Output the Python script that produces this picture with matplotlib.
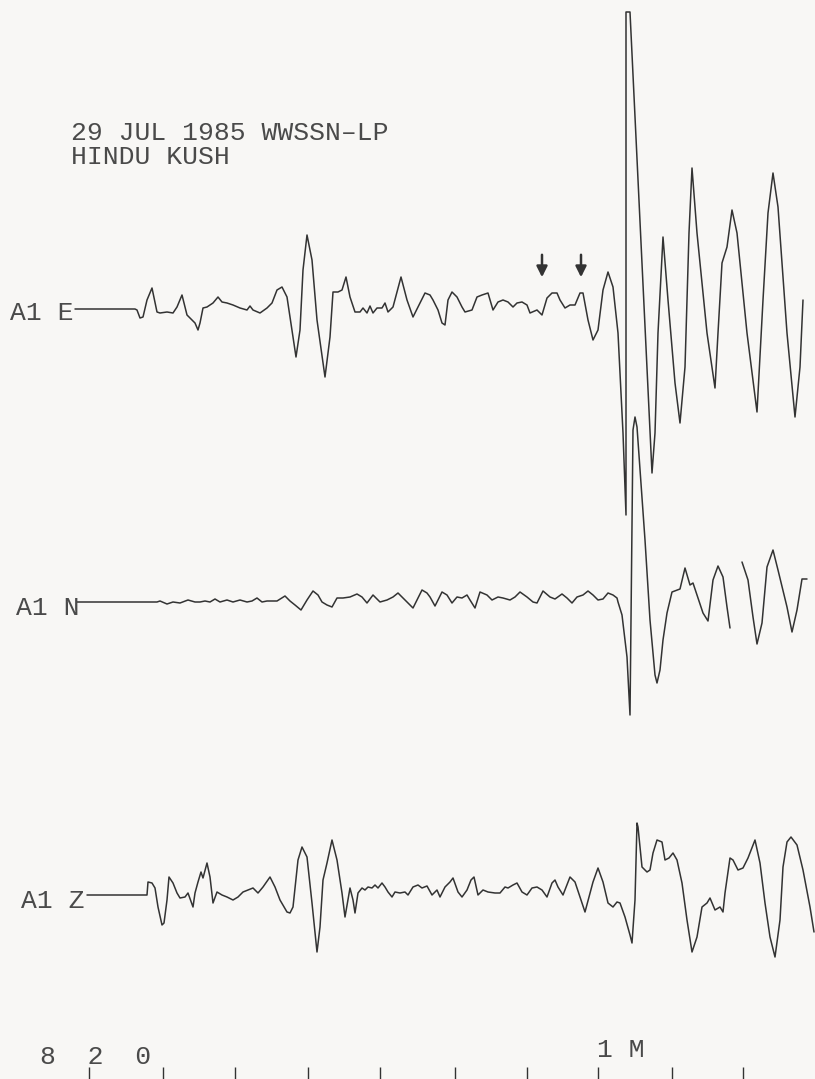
import numpy as np
import matplotlib.pyplot as plt

# A1 E component: time (plot units) and deflection (up = positive)
e_time = [75, 135, 137, 140, 143, 147, 152, 157, 160, 167, 173, 177, 182, 187, 192, 195,
          198, 200, 203, 207, 213, 218, 222, 227, 233, 240, 247, 250, 253, 260, 267, 272,
          277, 282, 287, 292, 296, 300, 303, 307, 312, 317, 325, 330, 333, 338, 342, 346,
          350, 355, 360, 363, 367, 370, 373, 377, 382, 385, 388, 393, 397, 401, 407, 413,
          420, 425, 430, 433, 438, 442, 445, 448, 452, 457, 462, 465, 472, 477, 482, 488,
          493, 498, 503, 508, 513, 517, 522, 527, 530, 537, 542, 547, 552, 557, 560, 565,
          570, 575, 580, 583, 588, 593, 598, 603, 608, 613, 618, 623, 626, 626, 630, 652,
          655, 658, 663, 668, 675, 680, 685, 689, 692, 697, 707, 715, 718, 722, 727, 732,
          737, 747, 757, 763, 768, 773, 778, 787, 795, 800, 803]
e_amp = [0, 0, -1, -9, -8, 9, 21, -3, -4, -3, -4, 2, 14, -6, -11, -14,
         -21, -14, 1, 2, 6, 12, 7, 6, 4, 1, -1, 3, -1, -4, 1, 6,
         19, 22, 12, -21, -48, -21, 39, 74, 49, -11, -68, -28, 17, 17, 19, 32,
         12, -3, -3, 1, -4, 3, -4, 1, 1, 6, -3, 2, 17, 32, 9, -8,
         6, 16, 14, 9, -1, -14, -16, 9, 17, 12, 2, -3, -1, 12, 14, 16,
         -1, 7, 9, 7, 2, 6, 7, 4, -4, -1, -6, 11, 16, 16, 9, 1,
         4, 4, 16, 16, -11, -31, -21, 19, 37, 22, -24, -124, -206, 297, 297, -164,
         -124, -24, 72, 9, -74, -114, -58, 76, 141, 76, -24, -79, -24, 46, 62, 99,
         76, -24, -103, 9, 96, 136, 102, -24, -108, -58, 9]

# A1 N component (gap in the record near the end)
n_time = [77, 157, 160, 167, 173, 180, 188, 195, 200, 205, 210, 215, 220, 227, 233, 240,
          247, 252, 257, 262, 267, 277, 285, 290, 295, 301, 307, 313, 318, 322, 327, 332,
          337, 343, 350, 357, 362, 367, 373, 380, 387, 393, 398, 405, 413, 422, 427, 430,
          435, 442, 447, 452, 457, 462, 467, 470, 475, 480, 487, 492, 498, 503, 510, 515,
          520, 527, 533, 537, 543, 550, 555, 562, 567, 572, 577, 583, 588, 593, 598, 603,
          608, 613, 617, 618, 622, 627, 630, 633, 635, 637, 645, 650, 655, 657, 660, 663,
          667, 672, 680, 685, 690, 693, 698, 703, 708, 713, 718, 723, 727, 730, 736,
          742, 748, 753, 757, 762, 767, 773, 778, 787, 792, 797, 802, 807]
n_amp = [0, 0, 1, -2, 0, -1, 2, 0, 0, 1, 0, 3, 0, 2, 0, 2,
         0, 1, 4, 0, 1, 1, 6, 1, -3, -8, 2, 11, 7, 0, -3, -5,
         4, 4, 5, 8, 5, -1, 7, 0, 2, 5, 9, 2, -6, 12, 9, 5,
         -4, 10, 7, -1, 5, 4, 7, 2, -6, 10, 7, 2, 5, 4, 2, 5,
         10, 5, 0, -1, 11, 5, 3, 8, 4, -1, 5, 7, 11, 7, 2, 3,
         9, 7, 4, 0, -13, -55, -113, 172, 185, 175, 62, -18, -73, -81, -68, -38,
         -11, 10, 13, 34, 17, 19, 4, -11, -19, 22, 36, 25, -5, -26, np.nan,
         40, 22, -15, -42, -21, 35, 52, 32, -5, -30, -8, 23, 23]

# A1 Z component
z_time = [87, 147, 148, 152, 155, 158, 162, 164, 167, 169, 173, 177, 180, 185, 188, 193,
          195, 198, 201, 203, 207, 210, 213, 217, 222, 227, 233, 238, 243, 248, 253, 258,
          263, 270, 275, 280, 287, 290, 293, 298, 302, 307, 312, 317, 320, 323, 327, 332,
          337, 342, 345, 350, 353, 355, 358, 362, 365, 368, 372, 375, 378, 382, 385, 388,
          392, 395, 400, 405, 408, 413, 418, 422, 427, 432, 437, 440, 445, 450, 453, 458,
          462, 467, 471, 474, 478, 483, 488, 495, 500, 505, 508, 513, 517, 522, 527, 532,
          537, 542, 547, 552, 555, 558, 563, 570, 575, 580, 585, 590, 593, 598, 603, 608,
          613, 617, 620, 625, 630, 632, 635, 637, 638, 642, 647, 650, 653, 657, 662, 665,
          669, 673, 677, 682, 687, 692, 697, 702, 707, 710, 715, 720, 723, 725, 730, 733,
          738, 743, 748, 755, 760, 765, 770, 775, 780, 783, 787, 791, 797, 803, 810, 814]
z_amp = [0, 0, 13, 12, 7, -12, -30, -28, -5, 18, 12, 2, -3, -2, 2, -12,
         2, 13, 23, 17, 32, 18, -8, 3, 0, -2, -5, -2, 3, 5, 7, 2,
         8, 18, 8, -5, -17, -18, -12, 35, 48, 38, -8, -57, -32, 15, 32, 55,
         35, 2, -22, 7, -5, -18, 2, 7, 5, 8, 7, 10, 7, 12, 8, 3,
         -2, 3, 2, 3, 0, 8, 10, 7, 9, 0, 5, -2, 8, 13, 17, 3,
         -2, 5, 15, 18, 0, 5, 3, 2, 2, 8, 7, 10, 12, 3, 0, 7,
         8, 5, -2, 12, 15, 8, 0, 18, 13, -2, -17, 2, 13, 27, 13, -8,
         -12, -7, -8, -22, -40, -48, -5, 72, 68, 28, 23, 25, 42, 55, 53, 35,
         37, 42, 35, 12, -25, -57, -42, -12, -8, -3, -15, -12, -17, 2, 37, 35,
         25, 27, 37, 55, 32, -8, -42, -62, -25, 28, 53, 58, 50, 25, -12, -37]

tick_time = [89, 163, 235, 308, 380, 455, 527, 598, 672, 743]
arrow_time = [542, 581]

ink = '#333333'
txt = '#4a4a4a'
font = dict(family='Liberation Mono', size=19, color=txt)

fig = plt.figure(figsize=(8.15, 10.79), dpi=100, facecolor='#f8f7f5')
ax = fig.add_axes([0, 0, 1, 1])
ax.set_xlim(0, 815)
ax.set_ylim(1079, 0)
ax.axis('off')

# label, time, amplitude, baseline, label x, label baseline
traces = [("A1 E", e_time, e_amp, 309, 10, 320),
          ("A1 N", n_time, n_amp, 602, 16, 615),
          ("A1 Z", z_time, z_amp, 895, 21, 908)]
for label, t, amp, base, lx, ly in traces:
    ax.plot(t, base - np.array(amp, dtype=float), color=ink, lw=1.1,
            solid_joinstyle='round', solid_capstyle='round')
    ax.text(lx, ly, label, va='baseline', ha='left', **font)

ax.text(71, 140, "29 JUL 1985 WWSSN\u2013LP", va='baseline', **font)
ax.text(71, 164, "HINDU KUSH", va='baseline', **font)

for xa in arrow_time:
    ax.annotate('', xy=(xa, 280), xytext=(xa, 252),
                arrowprops=dict(arrowstyle='-|>', color='#333333', lw=1.8,
                                mutation_scale=16))

# time marks along the bottom
ax.vlines(tick_time, 1067, 1079, color=ink, lw=1.0)
ax.text(40, 1064, "8  2  0", va='baseline', **font)
ax.text(597, 1057, "1 M", va='baseline', **font)

fig.savefig('out.png', dpi=100, facecolor=fig.get_facecolor())
